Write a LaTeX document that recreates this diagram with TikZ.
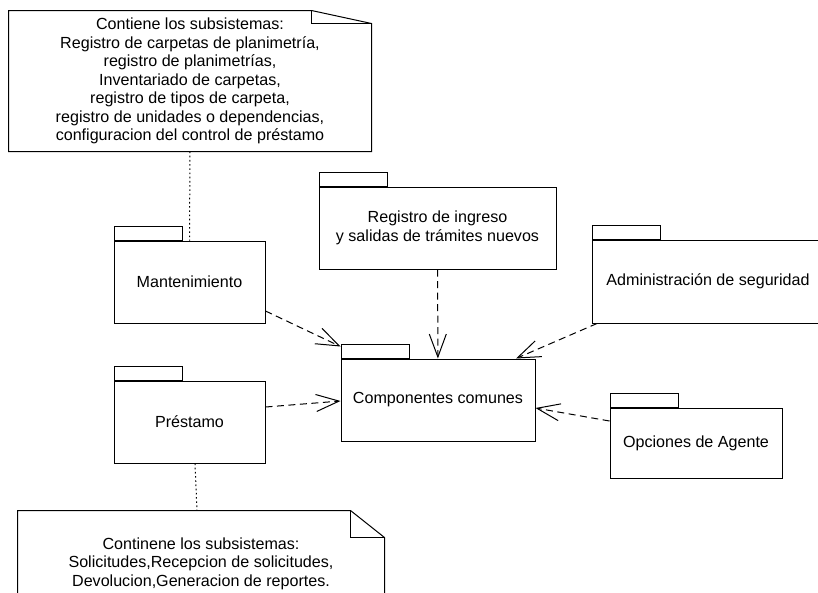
\documentclass[tikz,border=0pt]{standalone}
\usepackage{fontspec}
\setmainfont{Liberation Sans}
\usetikzlibrary{arrows.meta}
\tikzstyle{line} = [draw, dash pattern=on 7pt off 4.5pt, -{Straight Barb[length=23pt,width=17pt]}]
\tikzstyle{link} = [draw, dash pattern=on 1.6pt off 2.6pt]
\tikzstyle{pkg} = [draw, rectangle, text centered, align=center, minimum height=82pt, inner sep=0pt]
\tikzstyle{tab} = [draw, rectangle, minimum width=68pt, minimum height=14pt, inner sep=0pt, anchor=south west]
\tikzstyle{note} = [rectangle, text centered, align=center, inner sep=0pt]

\begin{document}
\begin{tikzpicture}[x=1pt, y=-1pt, line width=1pt, font=\fontsize{16.1}{18.5}\selectfont]
        \useasboundingbox (0,0) rectangle (818,592);
        \clip (0,0) rectangle (818,592);
        % packages
        \node[pkg, minimum width=151pt] (mant) at (189.5,282) {Mantenimiento};
        \node[pkg, minimum width=237pt] (reg) at (437.5,228) {Registro de ingreso\\y salidas de trámites nuevos};
        \node[pkg, minimum width=194pt] (comp) at (438,400) {Componentes comunes};
        \node[pkg, minimum width=151pt] (prest) at (189.5,422) {Préstamo};
        \node[pkg, minimum width=232pt, minimum height=83pt] (admin) at (708,281.5) {Administración de seguridad};
        \node[pkg, minimum width=172pt, minimum height=70pt] (opc) at (696,443) {Opciones de Agente};
        \node[tab] (manttab) at (mant.north west) {};
        \node[tab] (regtab) at (reg.north west) {};
        \node[tab] (comptab) at (comp.north west) {};
        \node[tab] (presttab) at (prest.north west) {};
        \node[tab] (admintab) at (admin.north west) {};
        \node[tab] (opctab) at (opc.north west) {};
        % notes
        \node[note, minimum width=362pt, minimum height=140pt] (topnote) at (190,81) {Contiene los subsistemas:\\Registro de carpetas de planimetría,\\registro de planimetrías,\\Inventariado de carpetas,\\registro de tipos de carpeta,\\registro de unidades o dependencias,\\configuracion del control de préstamo};
        \node[note, minimum width=366pt, minimum height=105pt] (botnote) at (201,563.5) {Continene los subsistemas:\\Solicitudes,Recepcion de solicitudes,\\Devolucion,Generacion de reportes.};
        \draw (topnote.south west) -- (topnote.north west) -- ([xshift=-60pt]topnote.north east) -- ([yshift=-13pt]topnote.north east) -- (topnote.south east) -- cycle;
        \draw ([xshift=-60pt]topnote.north east) |- ([yshift=-13pt]topnote.north east);
        \draw (botnote.south west) -- (botnote.north west) -- ([xshift=-34pt]botnote.north east) -- ([yshift=-27pt]botnote.north east) -- (botnote.south east) -- cycle;
        \draw ([xshift=-34pt]botnote.north east) |- ([yshift=-27pt]botnote.north east);
        \path[link] (topnote.south) -- (mant.north);
        \path[link] ([xshift=5.5pt]prest.south) -- ([xshift=-4pt]botnote.north);
        % dependencies
        \path[line] ([yshift=-29pt]mant.east) -- ([yshift=12pt]comp.north west);
        \path[line] (reg) -- (comp);
        \path[line] ([xshift=5.5pt]admin.south west) -- ([xshift=-19.5pt]comp.north east);
        \path[line] ([yshift=15pt]prest.east) -- ([yshift=-1pt]comp.west);
        \path[line] ([yshift=22pt]opc.west) -- ([yshift=-8pt]comp.east);
    \end{tikzpicture}
\end{document}
